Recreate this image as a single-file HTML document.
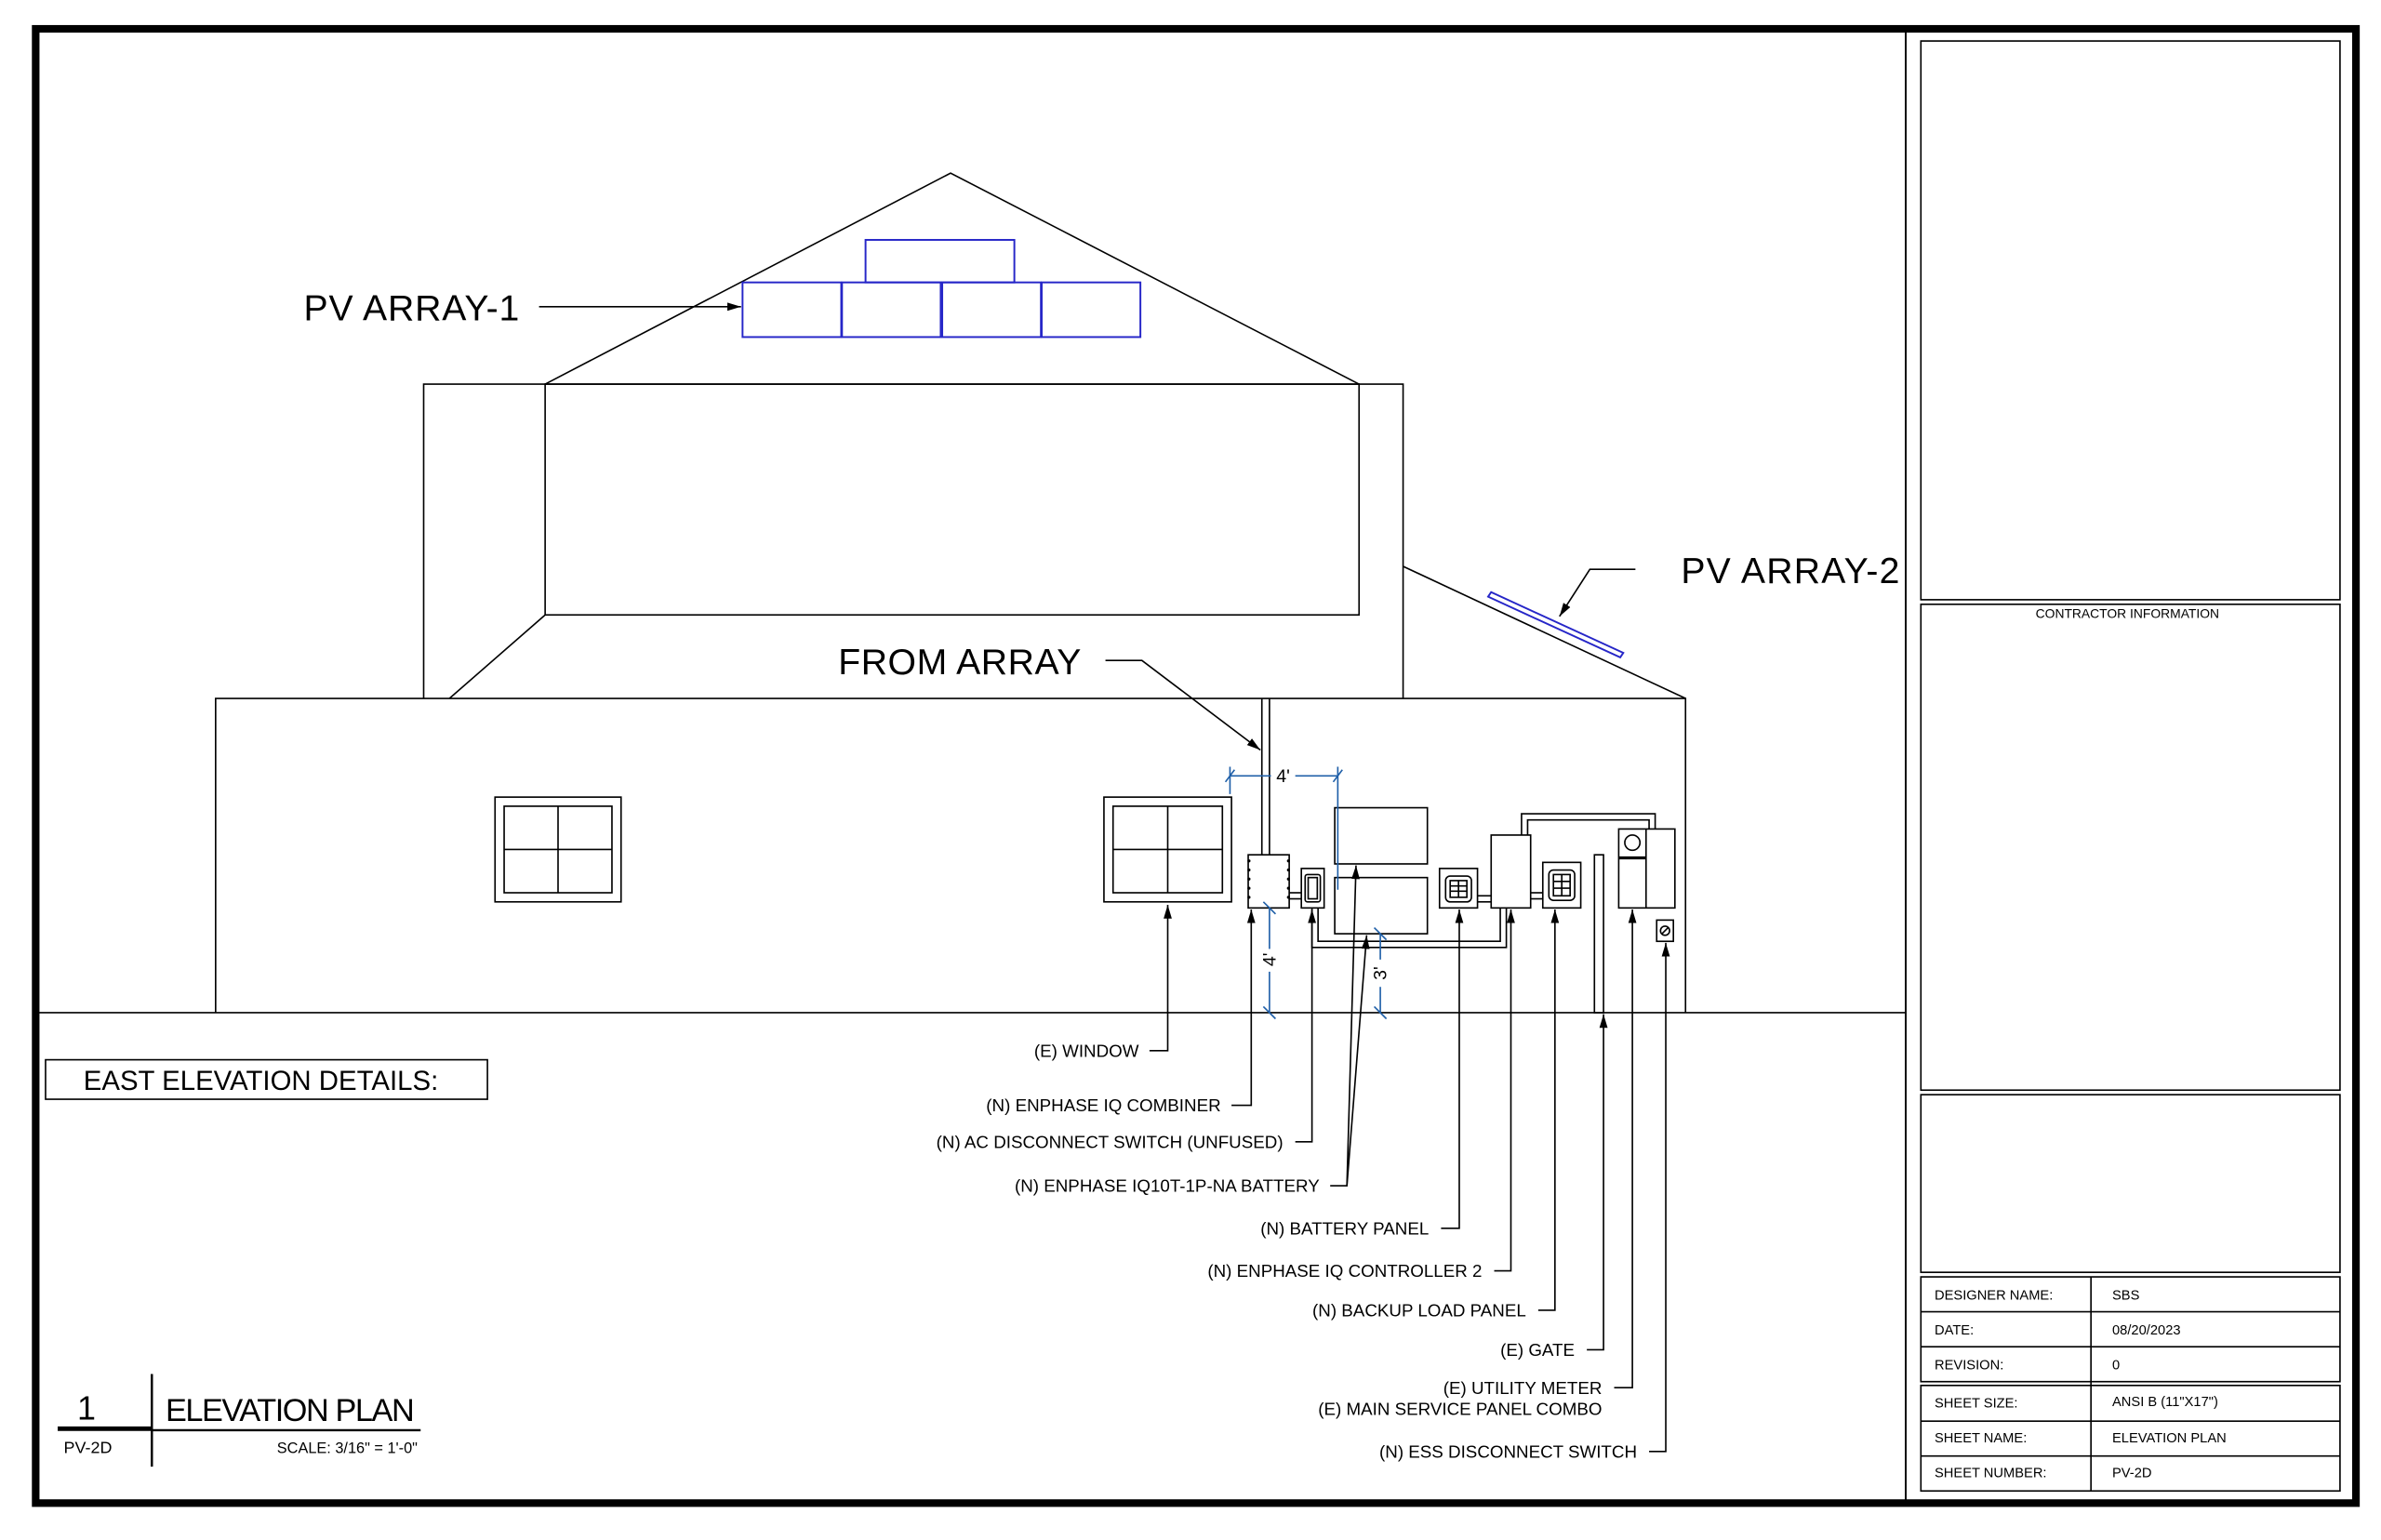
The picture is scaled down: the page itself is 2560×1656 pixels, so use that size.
<!DOCTYPE html>
<html><head><meta charset="utf-8"><style>
html,body{margin:0;padding:0;background:#fff;}
svg{display:block;}
text{font-family:"Liberation Sans",Arial,sans-serif;fill:#000;}
</style></head><body>
<svg width="2560" height="1656" viewBox="0 0 1568 1014.3" preserveAspectRatio="none" xmlns="http://www.w3.org/2000/svg">
<defs>
<marker id="ar" viewBox="0 0 10 10" refX="10" refY="5" markerWidth="9" markerHeight="9" markerUnits="userSpaceOnUse" orient="auto"><path d="M0,2 L10,5 L0,8 z" fill="#000"/></marker>
</defs>
<rect x="0" y="0" width="1568" height="1014.3" fill="#fff"/>
<!-- frame -->
<rect x="23.5" y="19" width="1528" height="971" fill="none" stroke="#000" stroke-width="5"/>
<line x1="1255" y1="21" x2="1255" y2="988" stroke="#000" stroke-width="1.2"/>
<g fill="none" stroke="#000" stroke-width="1">
<rect x="1265" y="27" width="276" height="368"/>
<rect x="1265" y="398" width="276" height="320"/>
<rect x="1265" y="721" width="276" height="117"/>
<rect x="1265" y="841" width="276" height="69"/>
<rect x="1265" y="912.5" width="276" height="69.5"/>
<line x1="1265" y1="864" x2="1541" y2="864"/><line x1="1265" y1="887" x2="1541" y2="887"/>
<line x1="1265" y1="936" x2="1541" y2="936"/><line x1="1265" y1="959" x2="1541" y2="959"/>
<line x1="1377" y1="841" x2="1377" y2="982"/>
</g>
<text x="1401" y="407" font-size="8.5" text-anchor="middle">CONTRACTOR  INFORMATION</text>
<g font-size="9">
<text x="1274" y="856">DESIGNER NAME:</text><text x="1391" y="856">SBS</text>
<text x="1274" y="879">DATE:</text><text x="1391" y="879">08/20/2023</text>
<text x="1274" y="902">REVISION:</text><text x="1391" y="902">0</text>
<text x="1274" y="927">SHEET SIZE:</text><text x="1391" y="926">ANSI B (11"X17")</text>
<text x="1274" y="950">SHEET NAME:</text><text x="1391" y="950">ELEVATION PLAN</text>
<text x="1274" y="973">SHEET NUMBER:</text><text x="1391" y="973">PV-2D</text>
</g>

<!-- house -->
<g fill="none" stroke="#000" stroke-width="1">
<line x1="24" y1="667" x2="1255" y2="667"/>
<polyline points="142,667 142,460 1110,460 1110,667"/>
<polyline points="279,460 279,253 924,253 924,460"/>
<rect x="359" y="253" width="536" height="152"/>
<line x1="359" y1="405" x2="296" y2="460"/>
<polyline points="359,253 626,114 895,253"/>
<line x1="924" y1="373" x2="1110" y2="460"/>
<rect x="326" y="525" width="83" height="69"/><rect x="332" y="531" width="71" height="57"/>
<line x1="367.5" y1="531" x2="367.5" y2="588"/><line x1="332" y1="559.5" x2="403" y2="559.5"/>
<rect x="727" y="525" width="84" height="69"/><rect x="733" y="531" width="72" height="57"/>
<line x1="769" y1="531" x2="769" y2="588"/><line x1="733" y1="559.5" x2="805" y2="559.5"/>
</g>
<!-- PV arrays -->
<g fill="none" stroke="#2626c8" stroke-width="1.2">
<rect x="570" y="158" width="98" height="28"/>
<rect x="489" y="186" width="65" height="36"/><rect x="554.5" y="186" width="65" height="36"/>
<rect x="620.5" y="186" width="65" height="36"/><rect x="686" y="186" width="65" height="36"/>
<polygon points="982,390 1069,430 1067,433 980,393"/>
</g>
<text x="200" y="211" font-size="24" textLength="142">PV ARRAY-1</text>
<line x1="355" y1="202" x2="488" y2="202" stroke="#000" stroke-width="1" marker-end="url(#ar)"/>
<text x="1107" y="384" font-size="24" textLength="144">PV ARRAY-2</text>
<polyline points="1077,375 1047,375 1027,406" fill="none" stroke="#000" stroke-width="1" marker-end="url(#ar)"/>
<text x="552" y="444" font-size="24" textLength="160">FROM ARRAY</text>
<polyline points="728,435 752,435 830,494" fill="none" stroke="#000" stroke-width="1" marker-end="url(#ar)"/>

<!-- equipment -->
<g fill="none" stroke="#000" stroke-width="1">
<line x1="831" y1="460" x2="831" y2="563"/><line x1="836" y1="460" x2="836" y2="563"/>
<rect x="822" y="563" width="27" height="35"/>
<rect x="857" y="572" width="15" height="26"/><rect x="859.5" y="576" width="10" height="18" rx="1.5"/><rect x="861.5" y="578" width="6" height="14"/>
<line x1="849" y1="588" x2="857" y2="588"/><line x1="849" y1="592" x2="857" y2="592"/>
<rect x="879" y="532" width="61" height="37"/>
<rect x="879" y="578" width="61" height="37"/>
<rect x="948" y="572" width="25" height="26"/><rect x="952" y="577" width="17" height="17" rx="3"/>
<rect x="955" y="580" width="11" height="11"/>
<line x1="955" y1="583.5" x2="966" y2="583.5"/><line x1="955" y1="587" x2="966" y2="587"/><line x1="960.5" y1="580" x2="960.5" y2="591"/>
<line x1="973" y1="590" x2="982" y2="590"/><line x1="973" y1="594" x2="982" y2="594"/>
<rect x="982" y="550" width="26" height="48"/>
<line x1="1008" y1="588" x2="1016" y2="588"/><line x1="1008" y1="592" x2="1016" y2="592"/>
<rect x="1016" y="568" width="25" height="30"/><rect x="1020" y="573" width="17" height="20" rx="3"/>
<rect x="1023" y="576" width="11" height="14"/>
<line x1="1023" y1="580.5" x2="1034" y2="580.5"/><line x1="1023" y1="585" x2="1034" y2="585"/><line x1="1028.5" y1="576" x2="1028.5" y2="590"/>
<rect x="1050" y="563" width="6" height="104"/>
<rect x="1066" y="546" width="37" height="52"/><line x1="1084" y1="546" x2="1084" y2="598"/>
<circle cx="1075" cy="555" r="5"/><line x1="1066" y1="565" x2="1084" y2="565" stroke-width="2"/>
<rect x="1091" y="606" width="11" height="14"/><circle cx="1096.5" cy="613" r="3"/><line x1="1094.5" y1="615" x2="1098.5" y2="611"/>
<polyline points="1002,550 1002,536 1090,536 1090,546"/>
<polyline points="1006,550 1006,540 1086,540 1086,546"/>
<polyline points="864,598 864,624 992,624 992,598"/>
<polyline points="868,598 868,620 988,620 988,598"/>
</g>
<g fill="#000">
<circle cx="822.5" cy="567" r="1"/><circle cx="822.5" cy="573" r="1"/><circle cx="822.5" cy="579" r="1"/><circle cx="822.5" cy="585" r="1"/><circle cx="822.5" cy="591" r="1"/>
<circle cx="848.5" cy="567" r="1"/><circle cx="848.5" cy="573" r="1"/><circle cx="848.5" cy="579" r="1"/><circle cx="848.5" cy="585" r="1"/><circle cx="848.5" cy="591" r="1"/>
</g>
<!-- dimensions -->
<g stroke="#1f5fa8" stroke-width="1" fill="none">
<line x1="810" y1="511" x2="837" y2="511"/><line x1="853" y1="511" x2="881" y2="511"/>
<line x1="810" y1="505" x2="810" y2="523"/><line x1="881" y1="505" x2="881" y2="586"/>
<line x1="807" y1="515" x2="813" y2="507"/><line x1="878" y1="515" x2="884" y2="507"/>
<line x1="836" y1="598" x2="836" y2="625"/><line x1="836" y1="640" x2="836" y2="667"/>
<line x1="832" y1="594" x2="840" y2="602"/><line x1="832" y1="663" x2="840" y2="671"/>
<line x1="909" y1="615" x2="909" y2="632"/><line x1="909" y1="650" x2="909" y2="667"/>
<line x1="905" y1="611" x2="913" y2="619"/><line x1="905" y1="663" x2="913" y2="671"/>
</g>
<g fill="#1f5fa8" font-size="12">
<text x="845" y="515" text-anchor="middle">4'</text>
<text transform="translate(840,632) rotate(-90)" text-anchor="middle">4'</text>
<text transform="translate(913,641) rotate(-90)" text-anchor="middle">3'</text>
</g>
<!-- leaders -->
<g fill="none" stroke="#000" stroke-width="1">
<polyline points="757,692 769,692 769,596" marker-end="url(#ar)"/>
<polyline points="811,728 824,728 824,599" marker-end="url(#ar)"/>
<polyline points="853,752 864,752 864,599" marker-end="url(#ar)"/>
<polyline points="876,781 887,781 893,570" marker-end="url(#ar)"/>
<line x1="887" y1="781" x2="900" y2="616" marker-end="url(#ar)"/>
<polyline points="949,809 961,809 961,599" marker-end="url(#ar)"/>
<polyline points="984,837 995,837 995,599" marker-end="url(#ar)"/>
<polyline points="1013,863 1024,863 1024,599" marker-end="url(#ar)"/>
<polyline points="1045,889 1056,889 1056,668" marker-end="url(#ar)"/>
<polyline points="1063,914 1075,914 1075,599" marker-end="url(#ar)"/>
<polyline points="1086,956 1097,956 1097,621" marker-end="url(#ar)"/>
</g>
<g font-size="11.5" text-anchor="end">
<text x="750" y="696">(E) WINDOW</text>
<text x="804" y="732">(N) ENPHASE IQ COMBINER</text>
<text x="845" y="756">(N) AC DISCONNECT SWITCH (UNFUSED)</text>
<text x="869" y="785">(N) ENPHASE IQ10T-1P-NA BATTERY</text>
<text x="941" y="813">(N) BATTERY PANEL</text>
<text x="976" y="841">(N) ENPHASE IQ CONTROLLER 2</text>
<text x="1005" y="867">(N) BACKUP LOAD PANEL</text>
<text x="1037" y="893">(E) GATE</text>
<text x="1055" y="918">(E) UTILITY METER</text>
<text x="1055" y="932">(E) MAIN SERVICE PANEL COMBO</text>
<text x="1078" y="960">(N) ESS DISCONNECT SWITCH</text>
</g>
<!-- details box -->
<rect x="30" y="698" width="291" height="26" fill="none" stroke="#000" stroke-width="1"/>
<text x="55" y="718" font-size="18">EAST ELEVATION DETAILS:</text>
<!-- title -->
<line x1="38" y1="941" x2="100" y2="941" stroke="#000" stroke-width="3"/>
<line x1="100" y1="942" x2="277" y2="942" stroke="#000" stroke-width="1.5"/>
<line x1="100" y1="905" x2="100" y2="966" stroke="#000" stroke-width="1.5"/>
<text x="57" y="935" font-size="22" text-anchor="middle">1</text>
<text x="109" y="936" font-size="21" textLength="164">ELEVATION PLAN</text>
<text x="42" y="957" font-size="11">PV-2D</text>
<text x="275" y="957" font-size="10" text-anchor="end">SCALE: 3/16" = 1'-0"</text>
</svg>
</body></html>
